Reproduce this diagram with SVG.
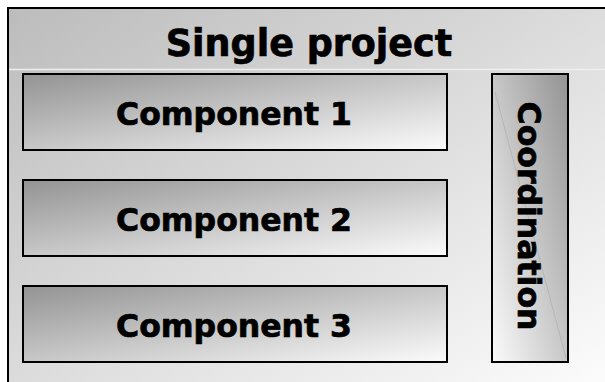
<svg xmlns="http://www.w3.org/2000/svg" width="605" height="382" viewBox="0 0 605 382">
<defs>
<linearGradient id="gFrame" x1="0" y1="0" x2="1" y2="1">
<stop offset="0" stop-color="#bcbcbc"/>
<stop offset="1" stop-color="#ffffff"/>
</linearGradient>
<linearGradient id="gComp" x1="0" y1="0" x2="1" y2="1">
<stop offset="0" stop-color="#939393"/>
<stop offset="1" stop-color="#fbfbfb"/>
</linearGradient>
<linearGradient id="gCoord" x1="1" y1="0" x2="0" y2="1">
<stop offset="0" stop-color="#939393"/>
<stop offset="1" stop-color="#fbfbfb"/>
</linearGradient>
<style>
.box{stroke:#000;stroke-width:2}
.t{font-family:"DejaVu Sans",Verdana,sans-serif;font-weight:bold;fill:#000;stroke:#000;stroke-width:0.7;text-anchor:middle}
</style>
</defs>
<g id="frame">
<rect x="8" y="8" width="620" height="400" fill="url(#gFrame)" class="box"/>
<line x1="9" y1="69.5" x2="605" y2="69.5" stroke="#eeeeee" stroke-width="1.5"/>
<text class="t" x="309" y="56" font-size="36.5">Single project</text>
</g>
<g id="component1">
<rect x="23" y="74" width="424" height="76" fill="url(#gComp)" class="box"/>
<text class="t" x="234" y="125" font-size="31.5">Component 1</text>
</g>
<g id="component2">
<rect x="23" y="180" width="424" height="76" fill="url(#gComp)" class="box"/>
<text class="t" x="234" y="231" font-size="31.5">Component 2</text>
</g>
<g id="component3">
<rect x="23" y="286" width="424" height="76" fill="url(#gComp)" class="box"/>
<text class="t" x="234" y="337" font-size="31.5">Component 3</text>
</g>
<g id="coordination">
<rect x="492" y="74" width="76" height="288" fill="url(#gCoord)" class="box"/>
<line x1="495" y1="92" x2="566" y2="358" stroke="#aaaaaa" stroke-width="0.6"/>
<text class="t" font-size="31.5" transform="translate(518,216) rotate(90)">Coordination</text>
</g>
<g id="connectors"/>
</svg>
